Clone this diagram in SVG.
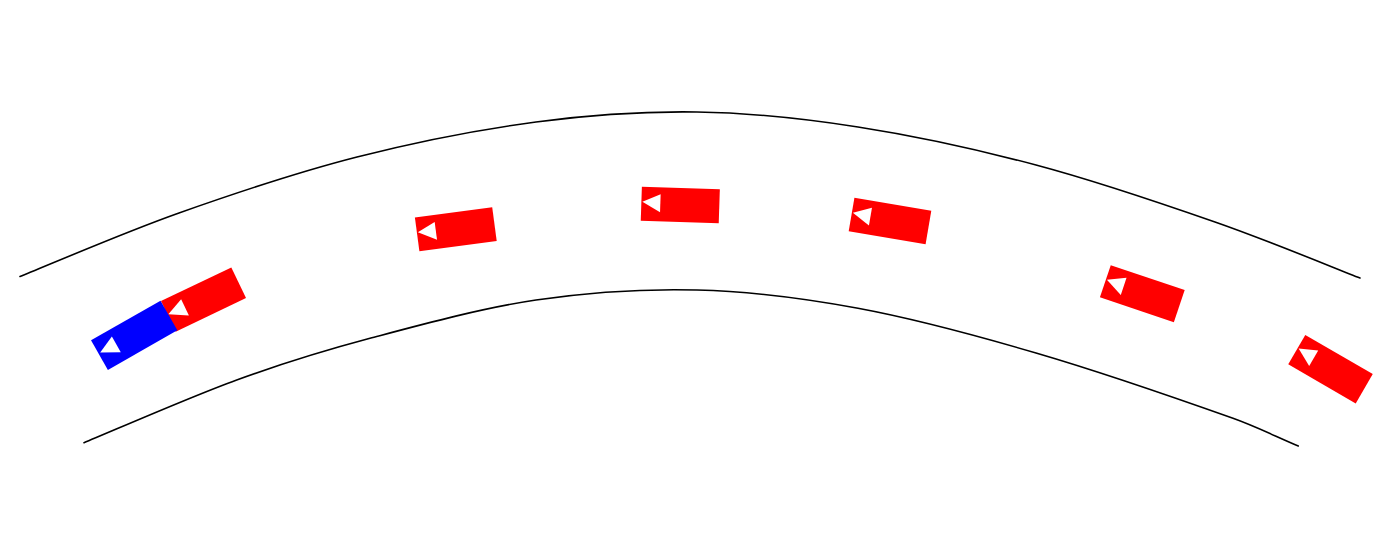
<svg xmlns="http://www.w3.org/2000/svg" xmlns:xlink="http://www.w3.org/1999/xlink" width="1379" height="558" viewBox="0 0 1379 558">
  <style>
    .edge { fill: none; stroke: #000; stroke-width: 1.6; stroke-linecap: round; }
    .red { fill: #ff0000; }
    .blue { fill: #0000ff; }
    .arrow { fill: #ffffff; }
  </style>
  <defs>
    <polygon id="tri" class="arrow" points="-38,-2 -20,-10 -20,8"/>
  </defs>
  <rect width="1379" height="558" fill="#ffffff"/>
  <g id="road">
    <path id="upper-edge" class="edge" d="M20,276.5 C46.5,265.9 122.8,232.9 179,213 C235.2,193.1 297.5,172.2 357,157 C416.5,141.8 479.3,129.5 536,122 C592.7,114.5 643.3,111.2 697,112 C750.7,112.8 801.5,118.2 858,127 C914.5,135.8 976.5,149.2 1036,165 C1095.5,180.8 1161,203.2 1215,222 C1269,240.8 1335.8,268.7 1360,278"/>
    <path id="lower-edge" class="edge" d="M84,442.7 C109.5,432.3 189,397.4 236.7,380 C284.4,362.6 320.1,351.6 370,338.3 C419.9,325 481.5,308.1 536,300 C590.5,292 643.3,288.6 697,290 C750.7,291.4 801.5,297.8 858,308.3 C914.5,318.8 973.5,334.7 1036,353 C1098.5,371.3 1168,395.2 1233,418.3 C1255.3,426.2 1276.5,436.8 1298.3,446"/>
  </g>
  <g id="car-red-1" transform="translate(203.5,299.6) rotate(-25.6)">
    <rect class="red" x="-39" y="-17" width="78" height="34"/>
    <use xlink:href="#tri"/>
  </g>
  <g id="car-blue" transform="translate(134.2,335.3) rotate(-29.7)">
    <rect class="blue" x="-40" y="-17" width="80" height="34"/>
    <use xlink:href="#tri"/>
  </g>
  <g id="car-red-2" transform="translate(455.8,229.2) rotate(-7.6)">
    <rect class="red" x="-39" y="-17" width="78" height="34"/>
    <use xlink:href="#tri"/>
  </g>
  <g id="car-red-3" transform="translate(680.3,205) rotate(1.9)">
    <rect class="red" x="-39" y="-17" width="78" height="34"/>
    <use xlink:href="#tri"/>
  </g>
  <g id="car-red-4" transform="translate(890,221) rotate(9.7)">
    <rect class="red" x="-39" y="-17" width="78" height="34"/>
    <use xlink:href="#tri"/>
  </g>
  <g id="car-red-5" transform="translate(1142.3,293.7) rotate(18.6)">
    <rect class="red" x="-39" y="-17" width="78" height="34"/>
    <use xlink:href="#tri"/>
  </g>
  <g id="car-red-6" transform="translate(1330.5,369.2) rotate(30.1)">
    <rect class="red" x="-39" y="-17" width="78" height="34"/>
    <use xlink:href="#tri"/>
  </g>
</svg>
